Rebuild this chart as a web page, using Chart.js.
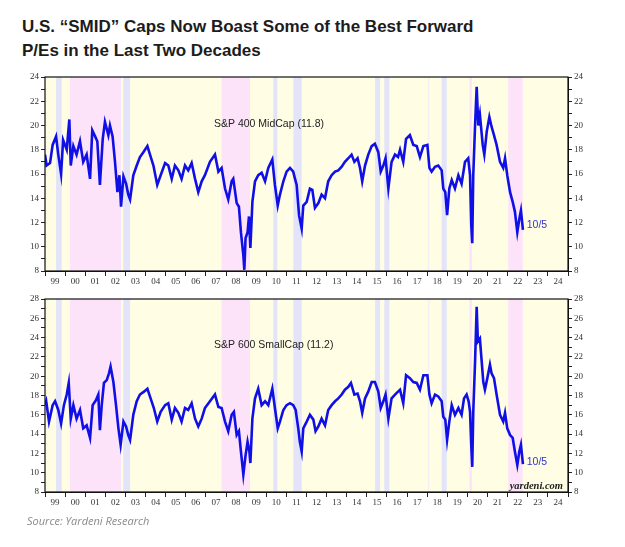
<!DOCTYPE html>
<html>
<head>
<meta charset="utf-8">
<script src="https://cdn.jsdelivr.net/npm/chart.js@4.4.0/dist/chart.umd.min.js"></script>
<style>
  body { margin: 0; background: #fff; width: 625px; height: 547px; position: relative; overflow: hidden; }
  #title { position: absolute; left: 22px; top: 15px; font: bold 17px "Liberation Sans", Arial, sans-serif; color: #1c1c1c; line-height: 24px; }
  .wrap { position: absolute; left: 0; width: 625px; }
  #source { position: absolute; left: 27px; top: 513px; font: italic 11px "Open Sans", sans-serif; color: #8a8a8a; }
</style>
</head>
<body>
<div id="title">U.S. “SMID” Caps Now Boast Some of the Best Forward<br>P/Es in the Last Two Decades</div>
<div class="wrap" style="top:60px;height:235px"><canvas id="midChart" width="625" height="235"></canvas></div>
<div class="wrap" style="top:285px;height:230px"><canvas id="smallChart" width="625" height="230"></canvas></div>
<div id="source">Source: Yardeni Research</div>

<script>
// S&P 400 MidCap forward P/E
const midDates = [
  1999.00, 1999.08, 1999.25, 1999.38, 1999.55, 1999.66, 1999.80, 1999.90, 2000.08, 2000.21,
  2000.28, 2000.41, 2000.57, 2000.74, 2000.90, 2001.07, 2001.24, 2001.35, 2001.49, 2001.60,
  2001.73, 2001.87, 2001.98, 2002.15, 2002.23, 2002.36, 2002.48, 2002.60, 2002.70, 2002.78,
  2002.90, 2003.03, 2003.14, 2003.23, 2003.39, 2003.56, 2003.72, 2003.89, 2004.09, 2004.22,
  2004.39, 2004.58, 2004.75, 2004.97, 2005.13, 2005.30, 2005.46, 2005.63, 2005.79, 2005.96,
  2006.12, 2006.29, 2006.46, 2006.62, 2006.79, 2006.95, 2007.20, 2007.45, 2007.62, 2007.78,
  2007.95, 2008.11, 2008.28, 2008.36, 2008.53, 2008.64, 2008.74, 2008.86, 2008.91, 2008.97,
  2009.07, 2009.14, 2009.21, 2009.31, 2009.44, 2009.60, 2009.77, 2009.94, 2010.10, 2010.30,
  2010.43, 2010.57, 2010.68, 2010.85, 2011.01, 2011.18, 2011.34, 2011.43, 2011.51, 2011.63,
  2011.76, 2011.84, 2012.01, 2012.17, 2012.29, 2012.42, 2012.59, 2012.75, 2012.92, 2013.08,
  2013.25, 2013.42, 2013.58, 2013.75, 2013.91, 2014.08, 2014.24, 2014.38, 2014.54, 2014.66,
  2014.77, 2014.91, 2015.07, 2015.24, 2015.40, 2015.57, 2015.69, 2015.82, 2015.93, 2016.07,
  2016.23, 2016.40, 2016.55, 2016.65, 2016.81, 2016.95, 2017.14, 2017.31, 2017.48, 2017.64,
  2017.81, 2018.01, 2018.11, 2018.22, 2018.39, 2018.55, 2018.72, 2018.80, 2018.90, 2018.99,
  2019.10, 2019.22, 2019.38, 2019.55, 2019.71, 2019.88, 2020.04, 2020.13, 2020.19, 2020.24,
  2020.29, 2020.38, 2020.46, 2020.54, 2020.62, 2020.76, 2020.84, 2020.96, 2021.09, 2021.20,
  2021.32, 2021.45, 2021.62, 2021.78, 2021.87, 2021.98, 2022.12, 2022.25, 2022.36, 2022.48,
  2022.58, 2022.66, 2022.76
];
const midValues = [
  17.6, 16.7, 16.9, 18.4, 19.1, 17.6, 16.0, 18.8, 18.0, 20.5,
  16.7, 18.3, 17.6, 18.7, 17.0, 17.6, 15.6, 19.6, 19.1, 18.7,
  15.1, 18.9, 20.3, 19.2, 20.0, 19.1, 17.0, 14.5, 15.9, 13.3,
  15.8, 15.2, 14.3, 13.9, 15.9, 16.7, 17.4, 17.8, 18.3, 17.6,
  16.7, 15.1, 15.9, 16.9, 16.7, 15.6, 16.7, 16.3, 15.6, 16.7,
  16.3, 16.9, 15.6, 14.5, 15.4, 15.9, 17.0, 17.6, 16.2, 16.5,
  14.8, 13.9, 15.4, 15.6, 13.6, 13.3, 11.2, 9.3, 8.1, 10.7,
  11.2, 12.5, 9.9, 13.7, 15.4, 15.9, 16.1, 15.4, 16.5, 17.2,
  15.1, 13.4, 14.3, 15.4, 16.2, 16.5, 16.2, 15.6, 15.1, 12.6,
  11.5, 13.4, 13.7, 14.8, 14.7, 13.2, 13.6, 14.3, 14.0, 15.4,
  15.9, 16.2, 16.3, 16.6, 17.0, 17.3, 17.6, 17.0, 17.3, 16.5,
  15.4, 16.7, 17.6, 18.3, 18.5, 17.8, 16.2, 16.7, 17.3, 14.8,
  17.0, 17.6, 17.4, 18.0, 17.0, 18.9, 19.2, 18.4, 18.3, 17.4,
  18.3, 18.4, 16.5, 16.2, 16.6, 16.7, 16.3, 14.8, 14.5, 12.6,
  14.8, 15.5, 14.8, 15.9, 15.2, 17.0, 17.3, 15.9, 11.8, 10.3,
  15.9, 20.0, 23.2, 20.0, 20.9, 18.4, 17.6, 19.5, 20.7, 19.9,
  19.2, 18.4, 17.0, 16.5, 17.3, 15.9, 14.5, 13.7, 12.9, 11.2,
  12.3, 13.0, 11.4
];

// S&P 600 SmallCap forward P/E
const smallDates = [
  1999.00, 1999.06, 1999.20, 1999.38, 1999.50, 1999.66, 1999.80, 1999.94, 2000.08, 2000.18,
  2000.28, 2000.41, 2000.57, 2000.74, 2000.90, 2001.07, 2001.24, 2001.37, 2001.53, 2001.65,
  2001.73, 2001.82, 2001.93, 2002.07, 2002.18, 2002.26, 2002.40, 2002.53, 2002.65, 2002.76,
  2002.90, 2003.03, 2003.14, 2003.23, 2003.39, 2003.56, 2003.72, 2003.92, 2004.09, 2004.25,
  2004.41, 2004.58, 2004.75, 2004.97, 2005.13, 2005.30, 2005.46, 2005.63, 2005.79, 2005.96,
  2006.12, 2006.29, 2006.46, 2006.62, 2006.79, 2006.95, 2007.20, 2007.45, 2007.62, 2007.78,
  2007.95, 2008.11, 2008.28, 2008.39, 2008.53, 2008.64, 2008.74, 2008.86, 2008.97, 2009.07,
  2009.16, 2009.21, 2009.31, 2009.44, 2009.60, 2009.77, 2009.94, 2010.10, 2010.30, 2010.43,
  2010.57, 2010.68, 2010.85, 2011.01, 2011.18, 2011.34, 2011.46, 2011.59, 2011.67, 2011.76,
  2011.84, 2012.01, 2012.17, 2012.34, 2012.45, 2012.59, 2012.75, 2012.92, 2013.08, 2013.25,
  2013.42, 2013.58, 2013.75, 2013.91, 2014.08, 2014.21, 2014.38, 2014.54, 2014.66, 2014.77,
  2014.91, 2015.07, 2015.24, 2015.40, 2015.57, 2015.69, 2015.82, 2015.93, 2016.07, 2016.23,
  2016.40, 2016.55, 2016.65, 2016.81, 2016.95, 2017.14, 2017.31, 2017.48, 2017.64, 2017.81,
  2018.01, 2018.11, 2018.22, 2018.39, 2018.55, 2018.72, 2018.80, 2018.90, 2018.99, 2019.10,
  2019.22, 2019.38, 2019.55, 2019.71, 2019.83, 2019.96, 2020.06, 2020.13, 2020.19, 2020.24,
  2020.29, 2020.38, 2020.46, 2020.52, 2020.62, 2020.71, 2020.79, 2020.87, 2020.99, 2021.12,
  2021.20, 2021.32, 2021.45, 2021.62, 2021.78, 2021.87, 2021.98, 2022.12, 2022.25, 2022.36,
  2022.48, 2022.58, 2022.66, 2022.76
];
const smallValues = [
  17.0, 17.4, 15.3, 17.0, 17.4, 16.5, 15.1, 17.0, 18.1, 19.3,
  15.6, 17.0, 15.6, 16.5, 14.6, 14.9, 13.6, 17.0, 17.5, 18.1,
  14.4, 17.0, 19.3, 19.6, 20.3, 21.0, 19.4, 17.0, 14.6, 12.9,
  15.3, 14.8, 13.9, 13.4, 16.0, 17.4, 18.1, 18.4, 18.7, 17.7,
  16.7, 15.3, 16.3, 17.0, 17.2, 15.5, 16.7, 16.2, 15.3, 16.7,
  16.5, 17.2, 15.6, 14.8, 15.6, 16.7, 17.4, 18.1, 16.8, 16.7,
  15.3, 14.3, 16.0, 16.3, 13.9, 14.3, 12.2, 9.8, 11.8, 13.2,
  12.2, 11.0, 15.6, 17.7, 18.7, 17.0, 17.4, 17.0, 18.7, 16.7,
  14.6, 15.3, 16.5, 17.0, 17.2, 17.0, 16.5, 14.6, 13.2, 12.2,
  14.6, 15.3, 16.0, 15.5, 14.3, 14.8, 15.6, 14.9, 16.5, 17.0,
  17.4, 17.7, 18.1, 18.6, 18.9, 19.3, 18.1, 18.2, 17.4, 16.2,
  17.7, 18.4, 19.4, 19.4, 18.4, 16.7, 17.4, 18.1, 15.6, 17.7,
  18.1, 18.4, 18.6, 17.2, 20.1, 19.8, 19.4, 19.3, 18.6, 20.1,
  20.1, 18.1, 17.2, 18.1, 17.9, 17.4, 15.8, 15.5, 13.4, 15.3,
  17.0, 16.0, 16.7, 16.0, 17.7, 18.1, 17.4, 16.3, 12.9, 10.6,
  16.3, 21.5, 27.2, 23.6, 23.9, 21.5, 19.4, 18.6, 19.8, 21.2,
  20.3, 19.8, 18.1, 16.0, 15.3, 16.2, 14.6, 13.9, 13.6, 12.2,
  10.8, 12.2, 12.9, 10.9
];

// shaded periods (decimal years): bear markets pink, corrections lavender
const bearStarts = [2000.24, 2007.78, 2020.10, 2022.03];
const bearEnds   = [2002.78, 2009.19, 2020.22, 2022.75];
const corrStarts = [1999.55, 2002.89, 2010.35, 2011.35, 2015.41, 2015.87, 2018.72];
const corrEnds   = [1999.83, 2003.23, 2010.55, 2011.76, 2015.66, 2016.12, 2018.97];
const faintStarts = [2018.03];
const faintEnds   = [2018.11];

const yearLabels = ['99','00','01','02','03','04','05','06','07','08','09','10','11','12',
  '13','14','15','16','17','18','19','20','21','22','23','24'];

const lineColor = '#1010e6';
const tickFont = { family: '"Liberation Serif", "DejaVu Serif", serif', size: 9 };

const bandsPlugin = {
  id: 'bands',
  beforeDatasetsDraw(chart) {
    const { ctx, chartArea: a, scales } = chart;
    const x = scales.x;
    ctx.save();
    ctx.fillStyle = '#fffde3';
    ctx.fillRect(a.left, a.top, a.right - a.left, a.bottom - a.top);
    function band(starts, ends, color) {
      ctx.fillStyle = color;
      starts.forEach((s, i) => {
        const x0 = x.getPixelForValue(s);
        const x1 = x.getPixelForValue(ends[i]);
        ctx.fillRect(x0, a.top, x1 - x0, a.bottom - a.top);
      });
    }
    band(bearStarts, bearEnds, '#fde3fa');
    band(corrStarts, corrEnds, '#e3e4fa');
    band(faintStarts, faintEnds, '#f3f0f8');
    ctx.restore();
  },
  afterDatasetsDraw(chart, args, opts) {
    const { ctx, chartArea: a, scales } = chart;
    ctx.save();
    ctx.strokeStyle = '#111';
    ctx.lineWidth = 1.2;
    ctx.strokeRect(a.left, a.top, a.right - a.left, a.bottom - a.top);

    ctx.textBaseline = 'middle';
    ctx.textAlign = 'left';
    ctx.fillStyle = '#222';
    ctx.font = '10.5px "Liberation Sans", Arial, sans-serif';
    ctx.fillText(opts.name, scales.x.getPixelForValue(2007.4), scales.y.getPixelForValue(opts.nameAt));

    ctx.fillStyle = '#3535c8';
    ctx.fillText('10/5', scales.x.getPixelForValue(2022.95), scales.y.getPixelForValue(opts.lastAt));

    if (opts.credit) {
      ctx.textAlign = 'right';
      ctx.textBaseline = 'alphabetic';
      ctx.fillStyle = '#222';
      ctx.font = 'italic bold 10.5px "Liberation Serif", serif';
      ctx.fillText('yardeni.com', a.right - 5, a.bottom - 3);
    }
    ctx.restore();
  }
};

function yScale(position, min, max, width) {
  return {
    type: 'linear',
    position: position,
    min: min,
    max: max,
    afterBuildTicks: (scale) => {
      const t = [];
      for (let v = min; v <= max; v++) t.push({ value: v });
      scale.ticks = t;
    },
    afterFit: (scale) => { scale.width = width; },
    grid: { drawOnChartArea: false, drawTicks: true, tickLength: 4, color: '#222', tickColor: '#222' },
    border: { display: true, color: '#111' },
    ticks: {
      font: tickFont,
      color: '#333',
      padding: 2,
      autoSkip: false,
      callback: (v) => (v % 2 === 0 ? String(v) : '')
    }
  };
}

function makeChart(canvasId, dates, values, yMin, yMax, opts) {
  const points = dates.map((d, i) => ({ x: d, y: values[i] }));
  return new Chart(document.getElementById(canvasId).getContext('2d'), {
    type: 'line',
    data: {
      datasets: [{
        data: points,
        borderColor: lineColor,
        borderWidth: 2.6,
        pointRadius: 0,
        tension: 0,
        yAxisID: 'y'
      }]
    },
    options: {
      responsive: false,
      animation: false,
      layout: { padding: { top: opts.padTop, bottom: 0, left: 0, right: 0 } },
      plugins: {
        legend: { display: false },
        tooltip: { enabled: false },
        bands: opts
      },
      scales: {
        x: {
          type: 'linear',
          position: 'bottom',
          min: 1999,
          max: 2025,
          afterBuildTicks: (scale) => {
            const t = [];
            for (let y = 1999; y <= 2025; y++) {
              t.push({ value: y });
              if (y < 2025) t.push({ value: y + 0.5 });
            }
            scale.ticks = t;
          },
          afterFit: (scale) => { scale.height = opts.xHeight; },
          grid: {
            drawOnChartArea: false,
            drawTicks: true,
            tickLength: 5,
            tickColor: (c) => (c.tick && c.tick.value % 1 === 0 ? '#222' : 'rgba(0,0,0,0)')
          },
          border: { display: true, color: '#111' },
          ticks: {
            font: tickFont,
            color: '#333',
            padding: 0,
            autoSkip: false,
            maxRotation: 0,
            callback: (v) => (v % 1 === 0 ? '' : yearLabels[Math.floor(v) - 1999])
          }
        },
        y: yScale('left', yMin, yMax, 45),
        y2: yScale('right', yMin, yMax, 57)
      }
    },
    plugins: [bandsPlugin]
  });
}

makeChart('midChart', midDates, midValues, 8, 24,
  { name: 'S&P 400 MidCap (11.8)', nameAt: 20.1, lastAt: 11.8, credit: false, padTop: 17, xHeight: 24 });
makeChart('smallChart', smallDates, smallValues, 8, 28,
  { name: 'S&P 600 SmallCap (11.2)', nameAt: 23.2, lastAt: 11.1, credit: true, padTop: 14, xHeight: 23 });
</script>
</body>
</html>
